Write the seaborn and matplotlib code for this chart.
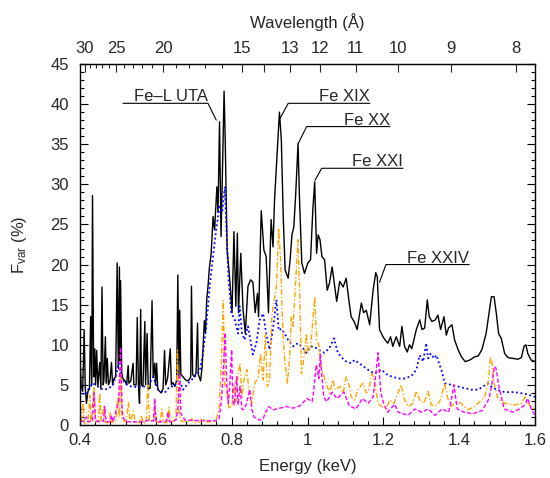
import numpy as np
import matplotlib
matplotlib.use("Agg")
import matplotlib.pyplot as plt
from matplotlib.ticker import MultipleLocator, FixedLocator, FuncFormatter
import seaborn as sns

# ---- fractional variability spectrum (keV, %) ----
energy_total = [
    0.400, 0.403, 0.407, 0.411, 0.414, 0.417, 0.421, 0.425, 0.428, 0.431, 0.433, 0.436,
    0.439, 0.441, 0.444, 0.447, 0.452, 0.455, 0.458, 0.461, 0.463, 0.467, 0.469, 0.472,
    0.475, 0.479, 0.483, 0.486, 0.490, 0.494, 0.498, 0.501, 0.504, 0.505, 0.507, 0.510,
    0.513, 0.519, 0.523, 0.527, 0.529, 0.534, 0.540, 0.542, 0.548, 0.551, 0.554, 0.557,
    0.560, 0.562, 0.566, 0.571, 0.573, 0.577, 0.580, 0.585, 0.590, 0.593, 0.597, 0.599,
    0.602, 0.605, 0.608, 0.614, 0.619, 0.623, 0.626, 0.631, 0.638, 0.641, 0.645, 0.650,
    0.655, 0.658, 0.661, 0.663, 0.666, 0.672, 0.677, 0.682, 0.687, 0.692, 0.694, 0.697,
    0.702, 0.706, 0.710, 0.712, 0.718, 0.722, 0.725, 0.728, 0.731, 0.734, 0.738, 0.741,
    0.746, 0.751, 0.755, 0.759, 0.761, 0.764, 0.768, 0.772, 0.775, 0.780, 0.783, 0.788,
    0.795, 0.801, 0.806, 0.811, 0.815, 0.818, 0.824, 0.830, 0.836, 0.843, 0.850, 0.856,
    0.862, 0.868, 0.871, 0.878, 0.885, 0.891, 0.897, 0.904, 0.909, 0.913, 0.919, 0.926,
    0.931, 0.936, 0.941, 0.949, 0.954, 0.959, 0.964, 0.969, 0.975, 0.979, 0.985, 0.992,
    1.001, 1.008, 1.014, 1.019, 1.024, 1.028, 1.033, 1.038, 1.045, 1.052, 1.058, 1.065,
    1.072, 1.077, 1.085, 1.094, 1.102, 1.109, 1.115, 1.123, 1.131, 1.142, 1.148, 1.155,
    1.164, 1.173, 1.180, 1.184, 1.190, 1.199, 1.208, 1.212, 1.219, 1.225, 1.234, 1.243,
    1.249, 1.256, 1.263, 1.269, 1.275, 1.287, 1.296, 1.302, 1.309, 1.316, 1.321, 1.328,
    1.337, 1.344, 1.351, 1.360, 1.366, 1.372, 1.381, 1.388, 1.397, 1.406, 1.416, 1.428,
    1.441, 1.450, 1.460, 1.471, 1.480, 1.485, 1.492, 1.498, 1.504, 1.511, 1.520, 1.529,
    1.542, 1.555, 1.564, 1.571, 1.576, 1.581, 1.590, 1.600,
]
fvar_total = [
    8.5, 5.0, 4.2, 11.8, 4.5, 2.7, 4.2, 4.5, 13.5, 5.0, 28.6, 6.0,
    9.5, 5.0, 9.3, 4.8, 7.8, 4.5, 17.2, 5.0, 5.5, 11.0, 5.2, 8.3,
    5.0, 5.5, 7.8, 5.0, 5.8, 6.0, 20.2, 7.0, 19.7, 8.0, 18.0, 6.5,
    5.8, 5.5, 5.0, 7.4, 5.2, 5.5, 7.7, 5.0, 5.0, 13.4, 5.0, 2.7,
    14.4, 5.0, 4.8, 12.9, 5.0, 11.4, 4.5, 4.6, 15.5, 6.0, 7.7, 5.0,
    7.7, 4.5, 4.3, 4.0, 4.5, 9.3, 5.0, 5.8, 9.5, 5.0, 5.3, 4.8,
    5.5, 18.7, 6.0, 14.3, 6.3, 6.0, 5.7, 5.5, 5.6, 6.0, 17.3, 6.3,
    6.0, 6.5, 12.7, 6.3, 5.5, 7.2, 10.0, 13.0, 11.5, 15.5, 17.5, 19.5,
    21.4, 26.0, 24.3, 28.0, 29.7, 26.5, 37.8, 23.5, 30.0, 41.6, 35.5, 21.8,
    18.1, 14.0, 24.1, 14.8, 23.9, 14.0, 21.4, 14.4, 11.4, 17.3, 18.1, 17.8,
    14.0, 16.4, 13.5, 26.7, 21.8, 21.0, 14.0, 25.6, 22.2, 28.0, 33.0, 39.0,
    35.5, 26.0, 19.3, 18.3, 20.5, 23.7, 24.7, 28.9, 35.1, 28.0, 20.2, 18.9,
    20.2, 20.6, 26.8, 30.3, 21.4, 23.7, 23.1, 21.0, 20.6, 16.8, 17.7, 19.7,
    17.2, 15.4, 17.9, 17.2, 18.3, 15.6, 13.5, 12.9, 11.9, 15.2, 14.0, 14.3,
    12.5, 16.8, 19.0, 18.5, 11.9, 11.0, 10.4, 10.2, 11.0, 9.8, 11.0, 9.8,
    12.3, 9.8, 9.1, 10.0, 9.5, 11.9, 13.1, 11.9, 12.1, 15.6, 13.5, 12.9,
    13.1, 13.7, 11.9, 13.5, 11.2, 12.1, 12.5, 10.6, 9.4, 8.5, 7.9, 8.1,
    8.5, 8.6, 9.4, 11.4, 14.3, 16.0, 16.0, 13.9, 11.4, 10.8, 8.9, 8.4,
    8.3, 8.2, 8.4, 9.8, 10.0, 8.9, 8.1, 7.9,
]

energy_comp1 = [
    0.400, 0.412, 0.421, 0.434, 0.447, 0.461, 0.474, 0.487, 0.496, 0.502, 0.509, 0.518,
    0.535, 0.553, 0.571, 0.584, 0.593, 0.606, 0.623, 0.637, 0.650, 0.658, 0.672, 0.685,
    0.702, 0.716, 0.724, 0.733, 0.742, 0.751, 0.760, 0.768, 0.775, 0.782, 0.788, 0.792,
    0.799, 0.808, 0.817, 0.821, 0.827, 0.834, 0.843, 0.856, 0.865, 0.874, 0.883, 0.891,
    0.900, 0.909, 0.918, 0.924, 0.931, 0.940, 0.949, 0.962, 0.975, 0.988, 0.997, 1.010,
    1.023, 1.032, 1.045, 1.058, 1.070, 1.080, 1.098, 1.115, 1.124, 1.142, 1.159, 1.177,
    1.195, 1.212, 1.239, 1.256, 1.274, 1.287, 1.296, 1.305, 1.313, 1.318, 1.325, 1.334,
    1.340, 1.346, 1.353, 1.362, 1.379, 1.397, 1.414, 1.432, 1.450, 1.463, 1.476, 1.485,
    1.498, 1.520, 1.546, 1.573, 1.600,
]
fvar_comp1 = [
    4.4, 3.7, 4.4, 5.2, 4.8, 4.4, 4.5, 5.0, 6.4, 7.7, 6.0, 5.2,
    4.8, 4.7, 4.8, 5.2, 6.0, 4.4, 4.0, 4.8, 4.8, 6.0, 4.4, 5.2,
    6.0, 6.8, 8.8, 12.3, 17.3, 21.1, 24.7, 27.2, 26.5, 29.7, 22.3, 18.1,
    14.0, 13.1, 11.4, 14.8, 11.5, 10.6, 12.3, 8.8, 10.2, 13.1, 13.9, 11.4,
    9.4, 12.0, 15.6, 11.8, 12.0, 11.4, 10.6, 9.8, 10.2, 9.6, 9.0, 9.8,
    9.6, 9.3, 9.0, 9.6, 10.8, 9.0, 8.0, 7.7, 8.1, 7.5, 6.9, 6.4,
    6.9, 6.2, 5.8, 5.8, 6.1, 6.9, 8.7, 7.9, 10.2, 8.3, 8.9, 8.3,
    8.7, 7.8, 6.9, 5.2, 5.0, 4.8, 4.6, 4.4, 4.4, 4.8, 5.2, 4.8,
    4.4, 4.1, 4.1, 3.9, 3.5,
]

energy_comp2 = [
    0.400, 0.404, 0.408, 0.412, 0.421, 0.426, 0.429, 0.437, 0.441, 0.449, 0.452, 0.455,
    0.463, 0.467, 0.476, 0.480, 0.484, 0.495, 0.500, 0.504, 0.507, 0.511, 0.521, 0.528,
    0.532, 0.541, 0.545, 0.558, 0.562, 0.566, 0.574, 0.579, 0.583, 0.593, 0.598, 0.602,
    0.611, 0.616, 0.620, 0.629, 0.635, 0.639, 0.648, 0.653, 0.657, 0.661, 0.666, 0.690,
    0.695, 0.701, 0.717, 0.722, 0.732, 0.748, 0.759, 0.767, 0.773, 0.778, 0.782, 0.787,
    0.793, 0.801, 0.806, 0.811, 0.817, 0.822, 0.827, 0.832, 0.840, 0.846, 0.853, 0.861,
    0.870, 0.876, 0.883, 0.889, 0.894, 0.900, 0.906, 0.912, 0.918, 0.924, 0.929, 0.935,
    0.940, 0.947, 0.953, 0.957, 0.962, 0.968, 0.975, 0.979, 0.984, 0.991, 0.997, 1.001,
    1.008, 1.013, 1.019, 1.024, 1.030, 1.035, 1.041, 1.049, 1.058, 1.067, 1.073, 1.085,
    1.094, 1.102, 1.111, 1.115, 1.124, 1.133, 1.146, 1.155, 1.161, 1.170, 1.177, 1.186,
    1.195, 1.208, 1.217, 1.228, 1.247, 1.256, 1.267, 1.278, 1.287, 1.296, 1.307, 1.318,
    1.326, 1.340, 1.349, 1.353, 1.362, 1.370, 1.379, 1.392, 1.405, 1.423, 1.441, 1.454,
    1.467, 1.476, 1.483, 1.486, 1.492, 1.502, 1.520, 1.546, 1.564, 1.574, 1.581, 1.595,
    1.600,
]
fvar_comp2 = [
    1.5, 0.3, 2.7, 0.2, 0.3, 3.7, 0.3, 4.8, 0.4, 0.5, 4.0, 0.5,
    2.3, 0.3, 0.3, 1.5, 0.3, 0.5, 3.5, 1.0, 6.5, 0.6, 0.4, 2.8,
    0.4, 1.7, 0.3, 0.3, 1.2, 0.2, 0.3, 5.0, 0.5, 0.4, 2.0, 0.4,
    0.3, 2.0, 0.3, 0.3, 2.2, 0.4, 0.5, 1.0, 9.3, 1.5, 0.5, 0.4,
    0.8, 0.3, 0.4, 0.8, 0.4, 0.4, 0.6, 2.0, 8.0, 15.5, 5.0, 4.4,
    2.0, 2.5, 5.0, 3.0, 6.5, 7.7, 3.5, 5.5, 6.9, 4.0, 2.7, 5.2,
    6.0, 8.9, 5.6, 11.4, 4.8, 5.5, 13.5, 15.6, 17.2, 24.5, 20.6, 11.4,
    8.1, 5.2, 8.5, 13.5, 12.3, 17.2, 23.1, 17.2, 6.4, 8.5, 11.4, 8.9,
    9.8, 12.3, 16.0, 10.6, 10.0, 7.3, 6.4, 5.2, 4.0, 5.6, 4.4, 4.8,
    4.0, 6.0, 4.8, 3.5, 3.1, 4.4, 5.2, 4.0, 4.3, 6.4, 5.4, 2.7,
    2.3, 2.1, 3.1, 2.7, 5.0, 3.1, 2.3, 2.7, 4.2, 3.1, 2.7, 4.2,
    2.5, 2.4, 3.0, 3.5, 5.2, 3.3, 2.3, 2.9, 2.7, 1.9, 2.3, 2.9,
    3.5, 5.2, 8.5, 8.1, 5.2, 3.3, 2.7, 2.5, 2.7, 3.5, 2.7, 2.1,
    2.0,
]

energy_comp3 = [
    0.400, 0.411, 0.417, 0.421, 0.433, 0.437, 0.441, 0.453, 0.462, 0.465, 0.469, 0.479,
    0.483, 0.487, 0.496, 0.502, 0.507, 0.511, 0.513, 0.521, 0.571, 0.579, 0.594, 0.597,
    0.600, 0.611, 0.628, 0.632, 0.636, 0.653, 0.658, 0.663, 0.666, 0.677, 0.756, 0.767,
    0.773, 0.777, 0.783, 0.787, 0.791, 0.795, 0.800, 0.803, 0.807, 0.813, 0.817, 0.822,
    0.827, 0.831, 0.838, 0.848, 0.853, 0.859, 0.866, 0.875, 0.883, 0.888, 0.897, 0.910,
    0.927, 0.945, 0.963, 0.980, 0.999, 1.012, 1.016, 1.023, 1.030, 1.034, 1.038, 1.043,
    1.051, 1.065, 1.078, 1.096, 1.110, 1.128, 1.145, 1.160, 1.173, 1.181, 1.186, 1.193,
    1.202, 1.212, 1.230, 1.239, 1.265, 1.283, 1.301, 1.319, 1.336, 1.355, 1.372, 1.379,
    1.386, 1.395, 1.413, 1.435, 1.461, 1.479, 1.486, 1.493, 1.497, 1.506, 1.519, 1.542,
    1.559, 1.573, 1.581, 1.590, 1.600,
]
fvar_comp3 = [
    0.4, 0.5, 1.0, 0.4, 0.5, 4.0, 0.5, 0.4, 0.5, 2.3, 0.4, 0.4,
    1.2, 0.4, 1.9, 3.0, 9.7, 2.0, 1.0, 0.4, 0.4, 0.6, 0.5, 3.3,
    0.5, 0.4, 0.5, 1.6, 0.4, 0.6, 2.0, 6.4, 1.4, 0.6, 0.5, 0.8,
    3.1, 6.0, 11.5, 5.0, 2.7, 5.0, 9.4, 3.0, 2.5, 6.0, 2.5, 4.8,
    2.0, 1.9, 2.5, 4.4, 2.0, 1.0, 0.8, 0.6, 0.8, 1.4, 2.3, 1.9,
    2.1, 2.3, 2.1, 2.4, 3.3, 2.9, 4.1, 7.5, 5.8, 8.8, 6.0, 3.5,
    2.9, 4.1, 3.3, 4.1, 2.4, 2.0, 3.3, 2.7, 3.5, 6.7, 9.0, 4.1,
    2.5, 1.6, 2.6, 1.6, 1.2, 2.0, 1.6, 2.0, 1.2, 2.0, 1.6, 3.0,
    5.0, 2.0, 1.6, 1.4, 1.8, 3.3, 5.0, 7.3, 7.1, 4.5, 2.0, 1.6,
    2.0, 2.5, 3.3, 2.0, 1.2,
]

# ---- line identifications: label, text x (right edge), leader (x, y) vertices ----
line_labels = ["Fe\u2013L UTA", "Fe XIX", "Fe XX", "Fe XXI", "Fe XXIV"]
label_x = [0.7375, 1.1647, 1.2175, 1.2517, 1.4266]
leader_x = [[0.5134, 0.7375, 0.7594], [1.1647, 0.9493, 0.9274],
            [1.2175, 0.9978, 0.9757], [1.2517, 1.0374, 1.0197],
            [1.4266, 1.2069, 1.1900]]
leader_y = [[40.1, 40.1, 38.0], [40.1, 40.1, 38.2],
            [37.2, 37.2, 35.1], [32.0, 32.0, 30.5],
            [20.0, 20.0, 17.8]]

# wavelength ticks for the top axis (Angstrom)
wl_major = [30, 25, 20, 15, 14, 13, 12, 11, 10, 9, 8]
wl_labels = ["30", "25", "20", "15", "", "13", "12", "11", "10", "9", "8"]
wl_minor = [29, 28, 27, 26, 24, 23, 22, 21, 19, 18, 17, 16]

HC = 12.398  # keV * Angstrom

sns.set_style("ticks")
plt.rcParams["font.family"] = ["Liberation Sans", "DejaVu Sans"]
plt.rcParams["mathtext.fontset"] = "custom"
plt.rcParams["mathtext.rm"] = "Liberation Sans"
plt.rcParams["mathtext.it"] = "Liberation Sans:italic"
plt.rcParams["font.size"] = 12

fig = plt.figure(figsize=(5.5, 4.78), dpi=100)
ax = fig.add_axes([80 / 550, 53 / 478, 455 / 550, 361 / 478])

sns.lineplot(x=energy_total, y=fvar_total, ax=ax, color="black", lw=1.0,
             estimator=None, sort=False)
sns.lineplot(x=energy_comp1, y=fvar_comp1, ax=ax, color="#0000ff", lw=1.3,
             linestyle=(0, (1, 1.5)), estimator=None, sort=False)
sns.lineplot(x=energy_comp2, y=fvar_comp2, ax=ax, color="orange", lw=1.0,
             linestyle=(0, (4, 1.5, 1, 1.5)), estimator=None, sort=False)
sns.lineplot(x=energy_comp3, y=fvar_comp3, ax=ax, color="magenta", lw=1.0,
             linestyle=(0, (3, 1.5)), estimator=None, sort=False)

ax.set_xlim(0.4, 1.6)
ax.set_ylim(0, 45)
ax.xaxis.set_major_locator(MultipleLocator(0.2))
ax.xaxis.set_minor_locator(MultipleLocator(0.04))
ax.yaxis.set_major_locator(MultipleLocator(5))
ax.yaxis.set_minor_locator(MultipleLocator(1))
ax.xaxis.set_major_formatter(FuncFormatter(lambda v, p: f"{v:g}"))

ax.tick_params(which="both", direction="in", top=False, right=True,
               width=0.8, labelsize=12, color="black")
ax.tick_params(which="major", length=5.5)
ax.tick_params(which="minor", length=2.8)
ax.tick_params(axis="x", which="major", pad=6)
ax.tick_params(axis="y", which="major", pad=8)
for s in ax.spines.values():
    s.set_linewidth(1.0)
    s.set_color("black")

ax.set_xlabel("Energy (keV)", fontsize=12, labelpad=8)
ax.set_ylabel("F$_{\\rm var}$ (%)", fontsize=12, labelpad=15)


def e_to_wl(e):
    e = np.asarray(e, dtype=float)
    with np.errstate(divide="ignore", invalid="ignore"):
        return HC / e


secax = ax.secondary_xaxis("top", functions=(e_to_wl, e_to_wl))
secax.xaxis.set_major_locator(FixedLocator(wl_major))
secax.xaxis.set_minor_locator(FixedLocator(wl_minor))
secax.set_xticklabels(wl_labels)
secax.tick_params(which="both", direction="in", width=0.8, labelsize=12)
secax.tick_params(which="major", length=5.5, pad=6)
secax.tick_params(which="minor", length=2.8)
secax.set_xlabel("Wavelength (\u00c5)", fontsize=12, labelpad=9)

for lab, tx, lx, ly in zip(line_labels, label_x, leader_x, leader_y):
    ax.plot(lx, ly, color="black", lw=0.8)
    ax.text(tx, ly[0] + 0.25, lab, ha="right", va="baseline", fontsize=12)

fig.savefig("out.png", dpi=100)
